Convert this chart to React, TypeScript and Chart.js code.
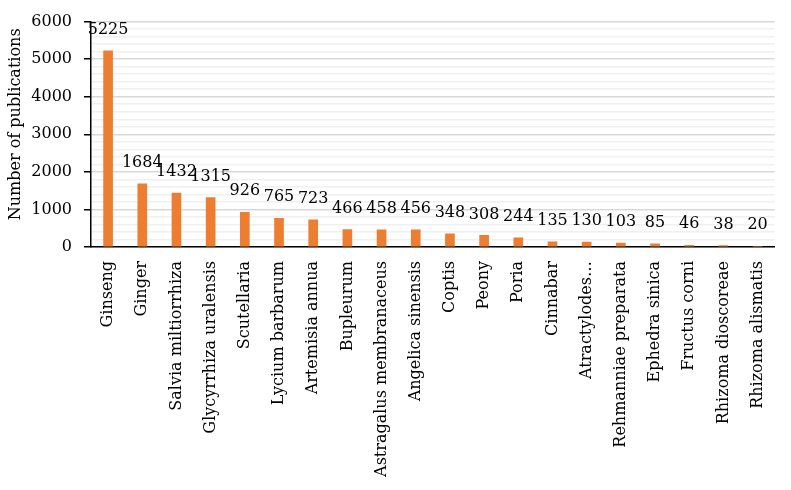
import React, { useEffect, useRef } from 'react';
import { Chart, registerables } from 'chart.js';

Chart.register(...registerables);

const categories = [
  'Ginseng',
  'Ginger',
  'Salvia miltiorrhiza',
  'Glycyrrhiza uralensis',
  'Scutellaria',
  'Lycium barbarum',
  'Artemisia annua',
  'Bupleurum',
  'Astragalus membranaceus',
  'Angelica sinensis',
  'Coptis',
  'Peony',
  'Poria',
  'Cinnabar',
  'Atractylodes…',
  'Rehmanniae preparata',
  'Ephedra sinica',
  'Fructus corni',
  'Rhizoma dioscoreae',
  'Rhizoma alismatis',
];

const publications = [5225, 1684, 1432, 1315, 926, 765, 723, 466, 458, 456, 348, 308, 244, 135, 130, 103, 85, 46, 38, 20];

const yTitle = 'Number of publications';
const yMin = 0;
const yMax = 6000;
const yMajorStep = 1000;
const yMinorStep = 200;

const FONT_FAMILY = '"DejaVu Serif", serif';
const FONT_SIZE = 16;

const dataLabelPlugin = {
  id: 'dataLabels',
  afterDatasetsDraw(chart: any) {
    const ctx = chart.ctx;
    const meta = chart.getDatasetMeta(0);
    const data = chart.data.datasets[0].data as number[];
    ctx.save();
    ctx.font = `${FONT_SIZE}px ${FONT_FAMILY}`;
    ctx.fillStyle = '#000';
    ctx.textAlign = 'center';
    ctx.textBaseline = 'middle';
    meta.data.forEach((el: any, i: number) => {
      ctx.fillText(String(data[i]), el.x, el.y - 21);
    });
    ctx.restore();
  },
};

const yTitlePlugin = {
  id: 'yTitle',
  afterDraw(chart: any) {
    const ctx = chart.ctx;
    const area = chart.chartArea;
    ctx.save();
    ctx.font = `${FONT_SIZE}px ${FONT_FAMILY}`;
    ctx.fillStyle = '#000';
    ctx.textAlign = 'center';
    ctx.textBaseline = 'middle';
    ctx.translate(16, (area.top + area.bottom) / 2 - 10);
    ctx.rotate(-Math.PI / 2);
    ctx.fillText(yTitle, 0, 0);
    ctx.restore();
  },
};

export default function App() {
  const canvasRef = useRef<HTMLCanvasElement | null>(null);

  useEffect(() => {
    document.body.style.margin = '0';
    const canvas = canvasRef.current;
    if (!canvas) return;
    const chart = new Chart(canvas, {
      type: 'bar',
      data: {
        labels: categories,
        datasets: [
          {
            label: yTitle,
            data: publications,
            backgroundColor: '#ED7D31',
            barThickness: 9,
          },
        ],
      },
      options: {
        animation: false,
        responsive: false,
        maintainAspectRatio: false,
        layout: { padding: { top: 15, right: 8, left: 0, bottom: 0 } },
        plugins: {
          legend: { display: false },
          tooltip: { enabled: false },
        },
        scales: {
          x: {
            grid: { display: true, color: 'rgba(0,0,0,0)', drawTicks: false },
            border: { display: true, color: '#000', width: 1.5 },
            ticks: {
              color: '#000',
              font: { family: FONT_FAMILY, size: FONT_SIZE },
              minRotation: 90,
              maxRotation: 90,
              autoSkip: false,
              padding: 14,
            },
            afterFit(scale: any) {
              scale.height = 490 - 247;
            },
          },
          y: {
            min: yMin,
            max: yMax,
            ticks: {
              stepSize: yMinorStep,
              color: '#000',
              font: { family: FONT_FAMILY, size: FONT_SIZE },
              padding: 12,
              autoSkip: false,
              callback: (v: any) => (Number(v) % yMajorStep === 0 ? String(v) : ''),
            },
            grid: {
              color: (c: any) => (c.tick && c.tick.value % yMajorStep === 0 ? '#d9d9d9' : '#f0f0f0'),
              lineWidth: 1.5,
              tickLength: 7,
              tickColor: (c: any) => (c.tick && c.tick.value % yMajorStep === 0 ? '#000' : 'rgba(0,0,0,0)'),
              tickWidth: 1.5,
            },
            border: { display: true, color: '#000', width: 1.5 },
            title: { display: false },
            afterFit(scale: any) {
              scale.width = 91;
            },
          },
        },
      },
      plugins: [dataLabelPlugin, yTitlePlugin],
    });
    return () => chart.destroy();
  }, []);

  return (
    <div style={{ width: 791, height: 490 }}>
      <canvas ref={canvasRef} width={791} height={490} style={{ display: 'block' }} />
    </div>
  );
}
